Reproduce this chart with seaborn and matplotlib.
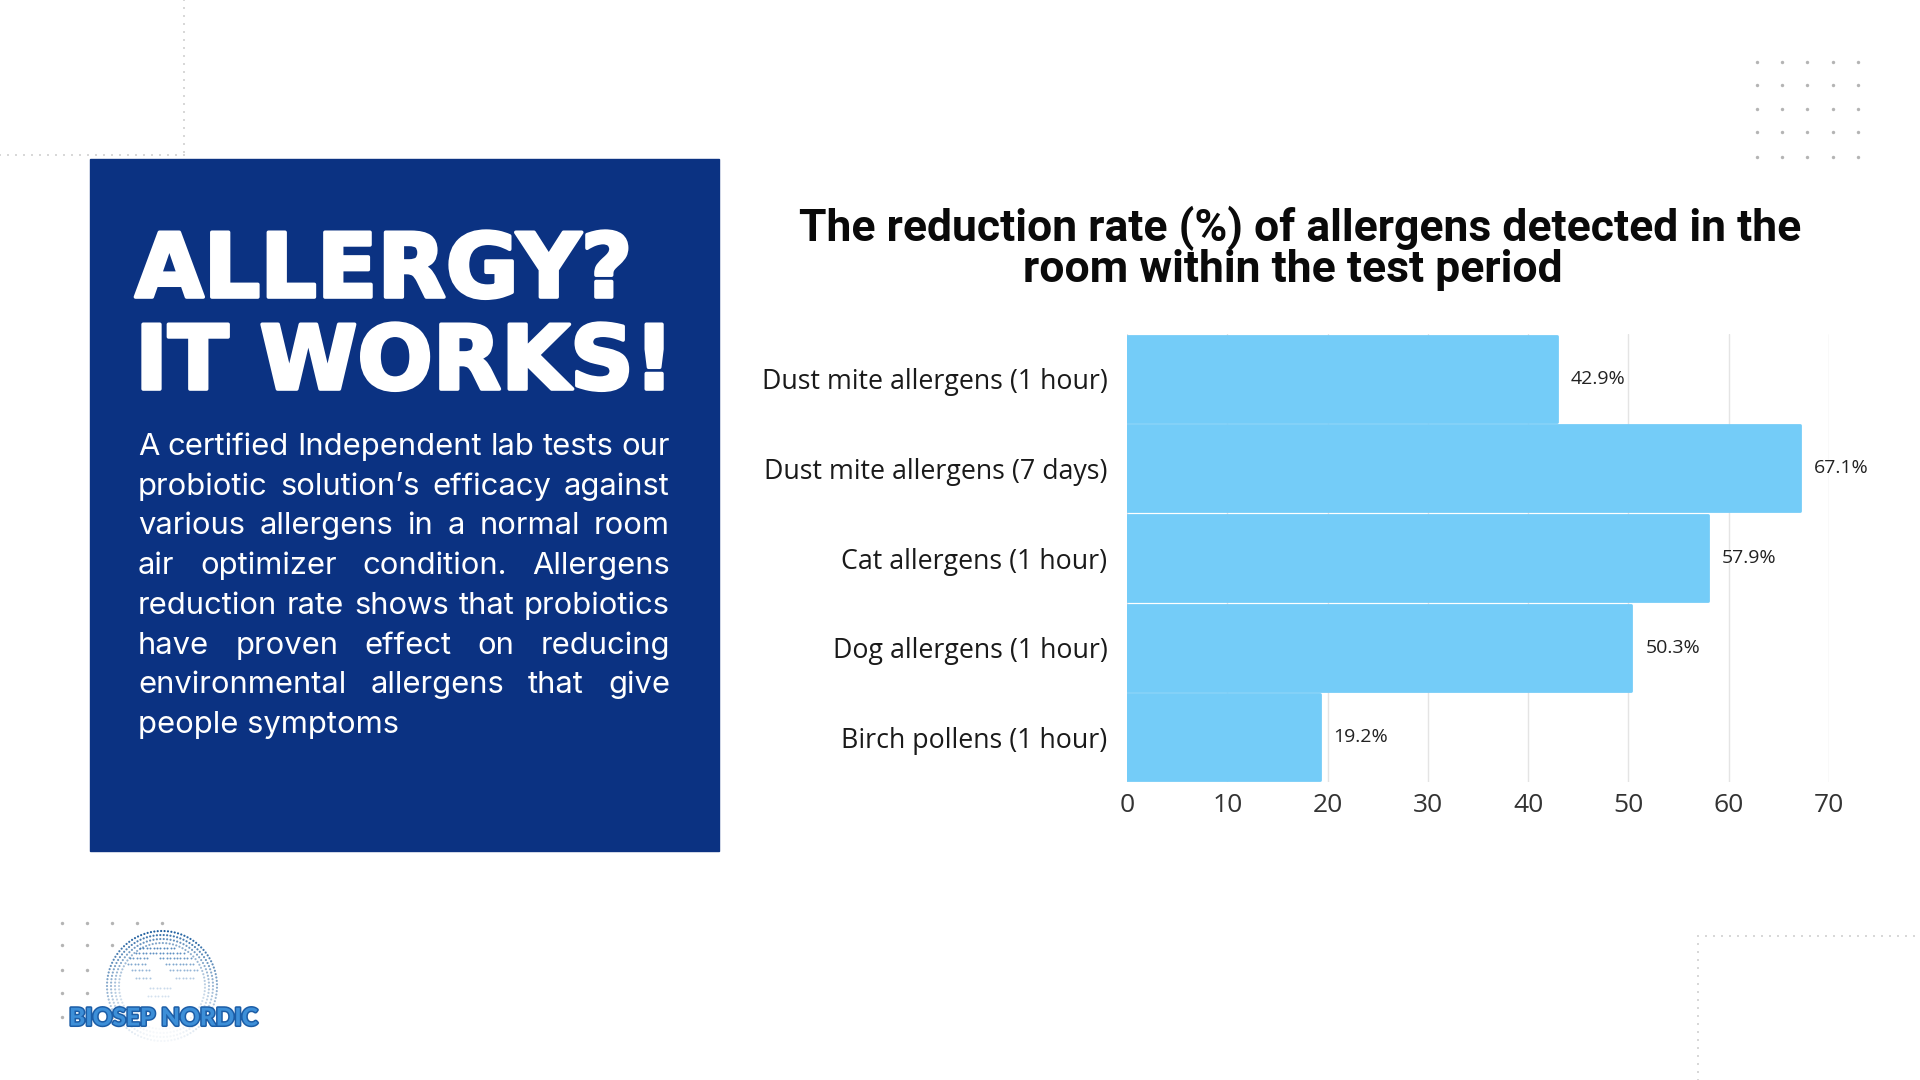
import numpy as np
import pandas as pd
import seaborn as sns
import matplotlib
matplotlib.use("Agg")
import matplotlib.pyplot as plt
from matplotlib.patches import Rectangle
from matplotlib import patheffects as pe
from matplotlib import font_manager

# ---------------- data ----------------
categories = [
    "Dust mite allergens (1 hour)",
    "Dust mite allergens (7 days)",
    "Cat allergens (1 hour)",
    "Dog allergens (1 hour)",
    "Birch pollens (1 hour)",
]
values = [42.9, 67.1, 57.9, 50.3, 19.2]
value_labels = ["42.9%", "67.1%", "57.9%", "50.3%", "19.2%"]
x_ticks = [0, 10, 20, 30, 40, 50, 60, 70]
title_lines = ["The reduction rate (%) of allergens detected in the",
               "room within the test period"]
heading_lines = ["ALLERGY?", "IT WORKS!"]
paragraph_lines = [
    "A certified Independent lab tests our",
    "probiotic solution\u2019s efficacy against",
    "various allergens in a normal room",
    "air optimizer condition.  Allergens",
    "reduction rate shows that probiotics",
    "have proven effect on reducing",
    "environmental allergens that give",
    "people symptoms",
]
logo_text = "BIOSEP NORDIC"

# ---------------- style ----------------
sns.set_theme(style="white")
plt.rcParams["font.family"] = ["Open Sans", "DejaVu Sans"]
available = {f.name for f in font_manager.fontManager.ttflist}
title_font = "Liberation Sans Narrow" if "Liberation Sans Narrow" in available else "Roboto"
para_font = "Inter" if "Inter" in available else "Lato"

NAVY = "#0b3282"
BAR = "#74CCF8"

fig = plt.figure(figsize=(19.2, 10.8), dpi=100)
fig.patch.set_facecolor("white")

bg = fig.add_axes([0, 0, 1, 1])
bg.set_xlim(0, 1920)
bg.set_ylim(1080, 0)
bg.axis("off")
bg.set_zorder(0)

# dotted decorative lines
def dotted(xs, ys, color="#d8d8d8", s=3):
    bg.scatter(xs, ys, s=s, marker="s", color=color, linewidths=0)

xs = np.arange(0, 186, 8.0); dotted(xs, np.full_like(xs, 155))
ys = np.arange(0, 156, 8.0); dotted(np.full_like(ys, 184), ys)
xs = np.arange(1698, 1921, 8.0); dotted(xs, np.full_like(xs, 936))
ys = np.arange(936, 1081, 8.0); dotted(np.full_like(ys, 1698), ys)

# top-right dot grid
gx, gy = np.meshgrid([1757, 1782, 1807, 1833, 1858], [62, 85, 109, 132, 157])
bg.scatter(gx.ravel(), gy.ravel(), s=6, color="#b4b4b4", linewidths=0)

# navy box
bg.add_patch(Rectangle((90, 159), 629, 692, color=NAVY, zorder=1))

# ---------------- chart ----------------
ax = fig.add_axes([1127 / 1920, 1 - 782 / 1080, (1829 - 1127) / 1920, (782 - 334) / 1080])
ax.set_zorder(2)
ax.patch.set_alpha(0)
df = pd.DataFrame({"category": categories, "value": values})
sns.barplot(data=df, x="value", y="category", orient="h", color=BAR,
            saturation=1, width=0.96, ax=ax)
for p in ax.patches:
    p.set_edgecolor(BAR)
    p.set_linewidth(2)
    p.set_joinstyle("round")
ax.set_xlim(0, 70)
ax.set_xticks(x_ticks)
ax.grid(True, axis="x", color="#e4e4e4", linewidth=1)
ax.grid(False, axis="y")
ax.set_axisbelow(True)
for sp in ax.spines.values():
    sp.set_visible(False)
ax.set_xlabel("")
ax.set_ylabel("")
ax.tick_params(axis="y", length=0, pad=14, labelsize=19.3, labelcolor="#1a1a1a")
ax.tick_params(axis="x", length=0, pad=8, labelsize=19, labelcolor="#333333")
ax.bar_label(ax.containers[0], labels=value_labels, padding=10,
             fontsize=14, color="#222222")

# ---------------- texts ----------------
fig.canvas.draw()
renderer = fig.canvas.get_renderer()


def width_of(s, **kw):
    t = bg.text(0, 500, s, **kw)
    w = t.get_window_extent(renderer).width
    t.remove()
    return w


def fit_size(s, target, base=20, **kw):
    w = width_of(s, fontsize=base, **kw)
    return base * target / w


# title
tkw = dict(family=[title_font, "DejaVu Sans"], fontweight="bold")
tsize = fit_size(title_lines[0], 999, **tkw)
bg.text(1300, 241, title_lines[0], ha="center", va="baseline", fontsize=tsize,
        color="#0a0a0a", **tkw)
bg.text(1293, 282, title_lines[1], ha="center", va="baseline", fontsize=tsize,
        color="#0a0a0a", **tkw)

# heading (stroked to look heavier)
hkw = dict(family=["DejaVu Sans"], fontweight="bold")
hsize = fit_size(heading_lines[1], 538, **hkw)
heavy = [pe.withStroke(linewidth=2.6, foreground="white")]
bg.text(135, 297, heading_lines[0], ha="left", va="baseline", fontsize=hsize,
        color="white", zorder=3, path_effects=heavy, **hkw)
bg.text(135, 389, heading_lines[1], ha="left", va="baseline", fontsize=hsize,
        color="white", zorder=3, path_effects=heavy, **hkw)

# justified paragraph
pkw = dict(family=[para_font, "DejaVu Sans"])
psize = fit_size(paragraph_lines[4], 528, **pkw)
left, right = 138, 670
for i, line in enumerate(paragraph_lines):
    yb = 455 + 39.7 * i
    if i == len(paragraph_lines) - 1:
        bg.text(left, yb, line, ha="left", va="baseline", fontsize=psize,
                color="white", zorder=3, **pkw)
        continue
    words = line.split()
    ws = [width_of(w, fontsize=psize, **pkw) for w in words]
    gap = (right - left - sum(ws)) / (len(words) - 1)
    x = left
    for w, wd in zip(words, ws):
        bg.text(x, yb, w, ha="left", va="baseline", fontsize=psize,
                color="white", zorder=3, **pkw)
        x += wd + gap

# ---------------- logo ----------------
gcx, gcy, gr = 162, 986, 55
lx, ly = np.meshgrid([62, 87, 112, 137, 162], [923, 945, 970, 993, 1017])
lx, ly = lx.ravel(), ly.ravel()
keep = np.hypot(lx - gcx, ly - gcy) > 58
bg.scatter(lx[keep], ly[keep], s=6, color="#b4b4b4", linewidths=0)

for k, r in enumerate([55, 51, 47, 43]):
    n = int(2 * np.pi * r / 3.4)
    th = np.linspace(-np.pi, np.pi, n, endpoint=False)
    px = gcx + r * np.cos(th)
    py = gcy + r * np.sin(th)
    alpha = np.clip(1.0 - (py - (gcy - r)) / (2.0 * r) * 0.95, 0.05, 1.0)
    cols = np.zeros((n, 4))
    cols[:, :3] = matplotlib.colors.to_rgb("#1f5f9f")
    cols[:, 3] = alpha * (1 - 0.15 * k)
    bg.scatter(px, py, s=2.4, c=cols, linewidths=0)
# inner continent-like dotted patches
for dy, x0, x1, a in [(-38, 140, 176, 0.8), (-33, 136, 184, 0.75), (-28, 130, 150, 0.7),
                      (-28, 160, 192, 0.7), (-22, 128, 148, 0.6), (-22, 166, 196, 0.6),
                      (-16, 132, 150, 0.5), (-16, 170, 198, 0.5), (-8, 136, 152, 0.4),
                      (-8, 176, 196, 0.35), (2, 150, 172, 0.25), (10, 148, 170, 0.2)]:
    xx = np.arange(x0, x1, 3.4)
    bg.scatter(xx, np.full_like(xx, gcy + dy), s=2.0, color="#2b6cae",
               alpha=a, linewidths=0)

lkw = dict(family=["Lato", "DejaVu Sans"], fontweight="black")
lsize = fit_size(logo_text, 189, **lkw)
bg.text(69, 1018, logo_text, ha="left", va="center", fontsize=lsize,
        color="#3d8fd8", zorder=4,
        path_effects=[pe.withStroke(linewidth=2.2, foreground="#1c5da6")], **lkw)

fig.savefig("out.png", dpi=100, facecolor="white")
